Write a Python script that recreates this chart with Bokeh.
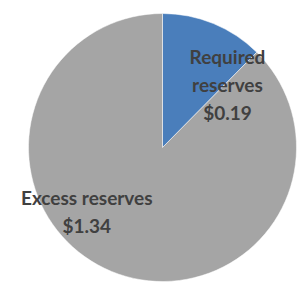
import math
from bokeh.plotting import figure
from bokeh.models import ColumnDataSource
from bokeh.core.properties import value
from bokeh.embed import file_html
from bokeh.resources import INLINE

# data
categories = ["Required\nreserves", "Excess reserves"]
amounts = [0.19, 1.34]
colors = ["#4a7ebb", "#a5a5a5"]

W, H = 298, 283
p = figure(width=W, height=H, x_range=(0, W), y_range=(0, H),
           output_backend="svg", toolbar_location=None, min_border=0)
p.axis.visible = False
p.grid.visible = False
p.outline_line_color = None
p.background_fill_color = "white"
p.border_fill_color = "white"

cx, cy, r = 162, 136, 134
total = sum(amounts)
starts, ends = [], []
a = math.pi / 2
for v in amounts:
    starts.append(a)
    a -= v / total * 2 * math.pi
    ends.append(a)

src = ColumnDataSource(dict(x=[cx] * len(amounts), y=[cy] * len(amounts),
                            s=starts, e=ends, c=colors))
p.wedge(x="x", y="y", radius=r, start_angle="s", end_angle="e",
        direction="clock", fill_color="c", line_color="white", line_width=0.5,
        source=src)

# label anchors (layout): angle in degrees, distance from centre
label_pos = [(44.1, 90.5), (220.1, 99)]
lx, ly, lt = [], [], []
for (ang, dist), cat, v in zip(label_pos, categories, amounts):
    lx.append(cx + dist * math.cos(math.radians(ang)))
    ly.append(cy + dist * math.sin(math.radians(ang)))
    lt.append(f"{cat}\n${v:.2f}")

p.text(x=lx, y=ly, text=lt, text_align="center", text_baseline="middle",
       text_font=value("Lato"), text_font_style="bold", text_font_size="19px",
       text_color="#404040", text_line_height=1.2)

open("out.html", "w").write(file_html(p, INLINE))
